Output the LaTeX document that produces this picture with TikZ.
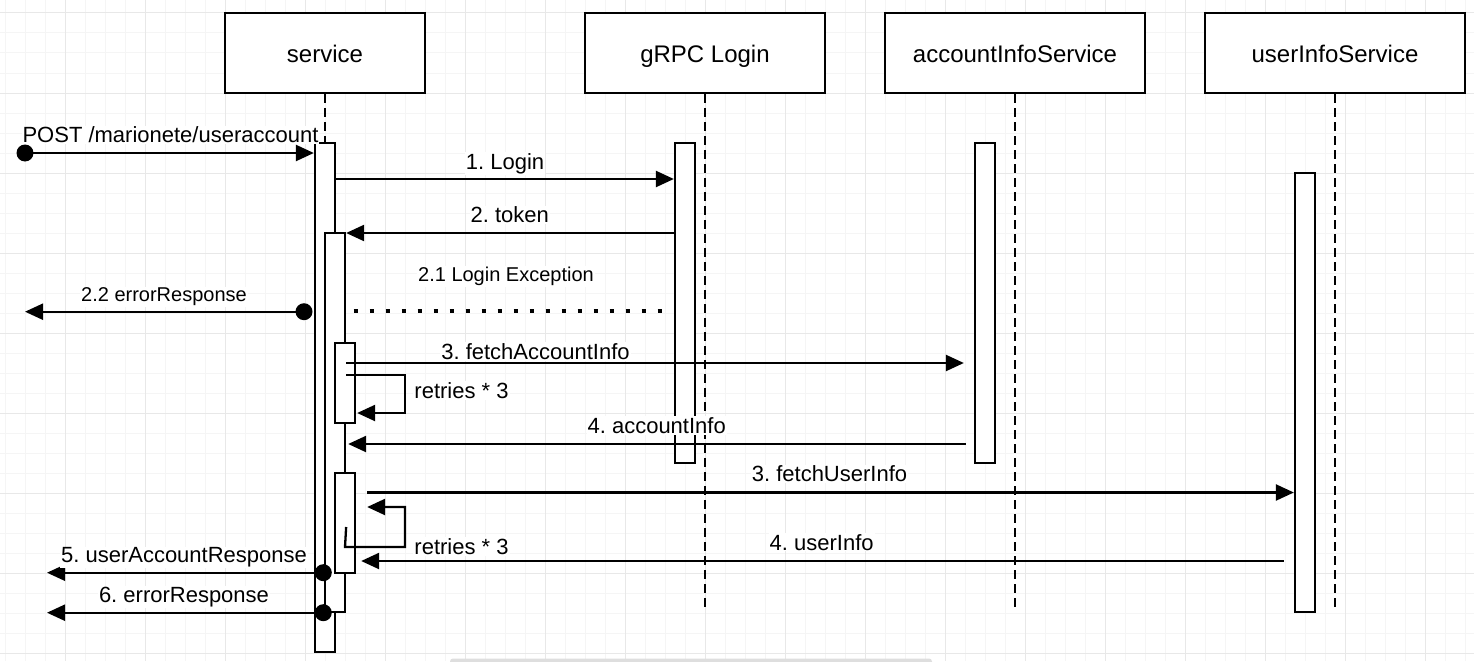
\documentclass[tikz,border=0pt]{standalone}
\usepackage{fontspec}
\setmainfont{Liberation Sans}
\usetikzlibrary{arrows.meta}
\definecolor{gridminor}{RGB}{245,245,245}
\definecolor{gridmajor}{RGB}{232,232,232}
\definecolor{scrollbar}{RGB}{222,222,222}
\begin{document}
\frenchspacing
\begin{tikzpicture}[x=1pt,y=-1pt,line width=2.3pt,
  hdr/.style={draw,fill=white,line width=2.3pt,minimum width=#1,minimum height=80pt,inner sep=0pt,
    font=\fontsize{24}{28}\selectfont,text height=20pt,text depth=0pt},
  act/.style={draw,fill=white,line width=2.3pt,minimum width=20pt,inner sep=0pt},
  life/.style={line width=2.3pt,dash pattern=on 9pt off 5pt},
  msg/.style={line width=2.3pt,-{Triangle[length=18pt,width=16pt]}},
  lbl/.style={font=\fontsize{22}{26}\selectfont,inner sep=1pt,anchor=base,fill=white},
  slbl/.style={font=\fontsize{20}{24}\selectfont,inner sep=1pt,anchor=base,fill=white},
  dotn/.style={circle,fill=black,minimum size=17pt,inner sep=0pt},
  exdots/.style={line width=4pt,dash pattern=on 4pt off 12pt}
]
\useasboundingbox (0,0) rectangle (1474,661);
% background grid
\begin{scope}[line width=1pt]
  \clip (0,0) rectangle (1474,661);
  \foreach \x in {5,25,...,1474} \draw[gridminor] (\x,0) -- (\x,661);
  \foreach \y in {13,33,...,661} \draw[gridminor] (0,\y) -- (1474,\y);
  \foreach \x in {65,145,...,1474} \draw[gridmajor] (\x,0) -- (\x,661);
  \foreach \y in {13,93,...,661} \draw[gridmajor] (0,\y) -- (1474,\y);
  \fill[scrollbar,rounded corners=3pt] (450,658.5) rectangle (932,666);
\end{scope}

% headers
\node[hdr=200pt] (hSvc) at (325,53) {service};
\node[hdr=240pt] (hGrpc) at (705,53) {gRPC Login};
\node[hdr=260pt] (hAcc) at (1015,53) {accountInfoService};
\node[hdr=260pt] (hUsr) at (1335,53) {userInfoService};

% lifeline ends
\coordinate (eGrpc) at (705,612);
\coordinate (eAcc) at (1015,612);
\coordinate (eUsr) at (1335,612);
\coordinate (sSvcTop) at (325,143);

\draw[life] (hSvc.south) -- (sSvcTop);
\draw[life] (hGrpc.south) -- (eGrpc);
\draw[life] (hAcc.south) -- (eAcc);
\draw[life] (hUsr.south) -- (eUsr);

% activations
\node[act,minimum height=509pt] (svcMain) at (325,397.5) {};
\node[act,minimum height=379pt] (svcIn) at (335,422.5) {};
\node[act,minimum height=80pt] (svcN1) at (345,383) {};
\node[act,minimum height=100pt] (svcN2) at (345,523) {};
\node[act,minimum height=320pt] (grpcAct) at (685,303) {};
\node[act,minimum height=320pt] (accAct) at (985,303) {};
\node[act,minimum height=439pt] (usrAct) at (1305,392.5) {};

% y levels
\coordinate (yPost) at (0,153);
\coordinate (y1) at (0,179);
\coordinate (y2) at (0,233);
\coordinate (y3) at (0,363);
\coordinate (yr1a) at (0,375);
\coordinate (yr1b) at (0,413);
\coordinate (y4) at (0,444);
\coordinate (y5) at (0,492.5);
\coordinate (yr2a) at (0,527);
\coordinate (yr2b) at (0,507);
\coordinate (y6) at (0,561);

% POST
\node[dotn] (dPost) at (25,153) {};
\draw[msg] (dPost.center) -- (svcMain.west |- yPost);
\node[lbl] (lPost) at (170.5,142.7) {POST /marionete/useraccount};

% 1. Login
\draw[msg] (svcMain.east |- y1) -- (grpcAct.west |- y1);
\node[lbl] (l1) at (505,169.3) {1. Login};

% 2. token
\draw[msg] (grpcAct.west |- y2) -- (svcIn.east |- y2);
\node[lbl] (l2) at (509.7,222.7) {2. token};

% 2.1 Login Exception
\node[slbl] (l21) at (506,281.7) {2.1 Login Exception};
\coordinate (ex1) at (353.7,311);
\coordinate (ex2) at (661.7,311);
\draw[exdots] (ex1) -- (ex2);

% 2.2 errorResponse
\node[dotn] (d22) at (304,311.7) {};
\coordinate (e22) at (25,311.7);
\draw[msg] (d22.center) -- (e22);
\node[slbl] (l22) at (164,301.7) {2.2 errorResponse};

% 3. fetchAccountInfo
\draw[msg] (svcIn.east |- y3) -- ([xshift=-10pt]accAct.west |- y3);
\node[lbl] (l3) at (535.5,359.3) {3. fetchAccountInfo};

% retries loop 1
\coordinate (r1c) at (405,375);
\coordinate (r1d) at (405,413);
\draw[msg] (svcIn.east |- yr1a) -- (r1c) -- (r1d) -- ([xshift=1pt]svcN1.east |- yr1b);
\node[lbl,anchor=base west] (lr1) at (412.3,398.3) {retries * 3};

% 4. accountInfo
\draw[msg] ([xshift=-8pt]accAct.west |- y4) -- ([xshift=2pt]svcIn.east |- y4);
\node[lbl] (l4) at (656.7,433.3) {4. accountInfo};

% 3. fetchUserInfo
\draw[msg] ([xshift=11pt]svcN2.east |- y5) -- (usrAct.west |- y5);
\node[lbl] (l5) at (829.5,481.7) {3. fetchUserInfo};

% retries loop 2
\coordinate (r2b) at (345,547);
\coordinate (r2c) at (405,547);
\coordinate (r2d) at (405,507);
\draw[msg] (svcIn.east |- yr2a) -- (r2b) -- (r2c) -- (r2d) -- ([xshift=11pt]svcN2.east |- yr2b);
\node[lbl,anchor=base west] (lr2) at (412.3,554.3) {retries * 3};

% 4. userInfo
\draw[msg] ([xshift=-10pt]usrAct.west |- y6) -- ([xshift=5pt]svcN2.east |- y6);
\node[lbl] (l6) at (821.7,550) {4. userInfo};

% 5. userAccountResponse
\node[dotn] (d5) at (323.3,572.7) {};
\coordinate (e5) at (47,572.7);
\draw[msg] (d5.center) -- (e5);
\node[lbl] (l7) at (184,562.7) {5. userAccountResponse};

% 6. errorResponse
\node[dotn] (d6) at (323.3,612.7) {};
\coordinate (e6) at (47,612.7);
\draw[msg] (d6.center) -- (e6);
\node[lbl] (l8) at (184,602.7) {6. errorResponse};
\end{tikzpicture}
\end{document}
